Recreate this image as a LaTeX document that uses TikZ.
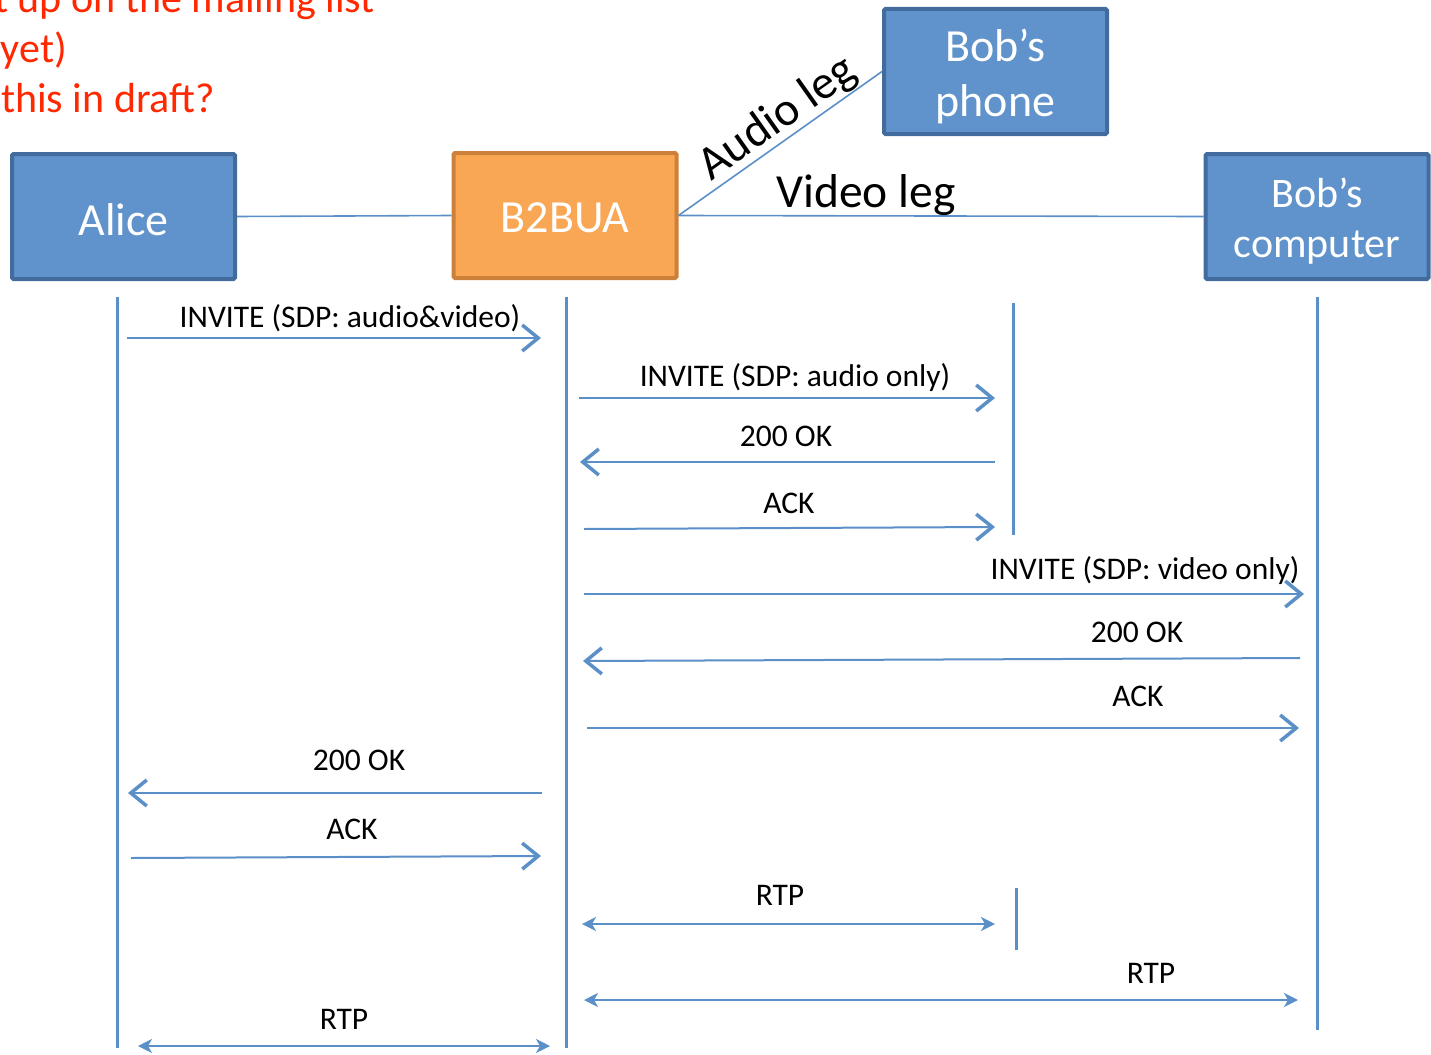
\documentclass[tikz,border=0pt]{standalone}
\usepackage{fontspec}
\setmainfont{Carlito}
\usetikzlibrary{arrows.meta}
\definecolor{boxfill}{RGB}{96,147,203}
\definecolor{boxline}{RGB}{66,108,158}
\definecolor{orfill}{RGB}{249,167,84}
\definecolor{orline}{RGB}{204,128,58}
\definecolor{ln}{RGB}{91,143,200}
\definecolor{redtxt}{RGB}{255,40,0}
\newcommand{\lowered}[2]{\raisebox{#1}[\height][\depth]{#2}}
\newcommand{\twoline}[3]{\lowered{#1}{\begin{tabular}{@{}c@{}}#2\\#3\end{tabular}}}
\begin{document}
\begin{tikzpicture}[x=1pt,y=-1pt,
  box/.style={draw=boxline, fill=boxfill, line width=4pt, rounded corners=1.5pt,
    minimum width=223pt, minimum height=125pt, inner sep=0pt, text=white,
    align=center, font=\fontsize{46}{55}\selectfont},
  orbox/.style={box, draw=orline, fill=orfill},
  leg/.style={draw=ln, line width=1.6pt},
  legtxt/.style={font=\fontsize{47.5}{55}\selectfont, inner sep=0pt},
  life/.style={draw=ln, line width=3pt},
  msg/.style={draw=ln, line width=2pt, -{Straight Barb[length=16pt,width=26pt,line width=3.5pt]}},
  rtp/.style={draw=ln, line width=2pt, {Stealth[length=14pt,width=14pt,inset=4pt]}-{Stealth[length=14pt,width=14pt,inset=4pt]}},
  lbl/.style={font=\fontsize{31.5}{36}\selectfont, inner sep=0pt, anchor=base},
  note/.style={font=\fontsize{42}{50}\selectfont, text=redtxt, inner sep=0pt, anchor=base west}]
\useasboundingbox (0,0) rectangle (1431,1054);

% red note text (cut off at the page edge)
\node[note] (n1) at (-6,13) {t up on the mailing list};
\node[note] (n2) at (-12,63) {(yet)};
\node[note] (n3) at (1,113) {this in draft?};

% participants
\node[box] (alice) at (123.5,216.5) {\lowered{-3pt}{Alice}};
\node[orbox] (b2bua) at (565,215.5) {\lowered{-2pt}{B2BUA}};
\node[box] (phone) at (995.5,71.5) {\twoline{-7pt}{Bob’s}{phone}};
\node[box, font=\fontsize{42}{50}\selectfont] (comp) at (1317,216.5) {\twoline{-6pt}{Bob’s}{computer}};

% legs
\draw[leg] (alice.east) -- (b2bua.west);
\draw[leg] (b2bua.east) -- (comp.west)
  node[legtxt, pos=0.357, anchor=base, yshift=8pt] (vleg) {Video leg};
\draw[leg] (b2bua.east) -- (phone.west)
  node[legtxt, pos=0.55, sloped, anchor=south, yshift=0pt] (aleg) {Audio leg};

% lifelines
\coordinate (aT) at (117,297);  \coordinate (aB) at (117,1048);
\coordinate (bT) at (566,297);  \coordinate (bB) at (566,1048);
\coordinate (pT) at (1013,303); \coordinate (pB) at (1013,535);
\coordinate (pT2) at (1016,888); \coordinate (pB2) at (1016,950);
\coordinate (cT) at (1317,297); \coordinate (cB) at (1317,1030);
\draw[life] (aT) -- (aB);
\draw[life] (bT) -- (bB);
\draw[life] (pT) -- (pB);
\draw[life] (pT2) -- (pB2);
\draw[life] (cT) -- (cB);

% messages
\coordinate (m1s) at (127,338);  \coordinate (m1e) at (541,338);
\draw[msg] (m1s) -- (m1e);
\node[lbl] (l1) at (350,327) {INVITE (SDP: audio\&video)};

\coordinate (m2s) at (579,398);  \coordinate (m2e) at (995,398);
\draw[msg] (m2s) -- (m2e);
\node[lbl] (l2) at (795,386) {INVITE (SDP: audio only)};

\coordinate (m3s) at (995,462);  \coordinate (m3e) at (580,462);
\draw[msg] (m3s) -- (m3e);
\node[lbl] (l3) at (786,446) {200 OK};

\coordinate (m4s) at (584,529);  \coordinate (m4e) at (995,527);
\draw[msg] (m4s) -- (m4e);
\node[lbl] (l4) at (789,513) {ACK};

\coordinate (m5s) at (584,594);  \coordinate (m5e) at (1304,594);
\draw[msg] (m5s) -- (m5e);
\node[lbl] (l5) at (1145,579) {INVITE (SDP: video only)};

\coordinate (m6s) at (1300,658); \coordinate (m6e) at (583,661);
\draw[msg] (m6s) -- (m6e);
\node[lbl] (l6) at (1137,642) {200 OK};

\coordinate (m7s) at (587,728);  \coordinate (m7e) at (1299,728);
\draw[msg] (m7s) -- (m7e);
\node[lbl] (l7) at (1138,706) {ACK};

\coordinate (m8s) at (542,793);  \coordinate (m8e) at (128,793);
\draw[msg] (m8s) -- (m8e);
\node[lbl] (l8) at (359,770) {200 OK};

\coordinate (m9s) at (131,858);  \coordinate (m9e) at (541,856);
\draw[msg] (m9s) -- (m9e);
\node[lbl] (l9) at (352,839) {ACK};

\coordinate (r1s) at (582,924);  \coordinate (r1e) at (995,924);
\draw[rtp] (r1s) -- (r1e);
\node[lbl] (l10) at (780,905) {RTP};

\coordinate (r2s) at (584,1000); \coordinate (r2e) at (1298,1000);
\draw[rtp] (r2s) -- (r2e);
\node[lbl] (l11) at (1151,983) {RTP};

\coordinate (r3s) at (138,1046); \coordinate (r3e) at (550,1046);
\draw[rtp] (r3s) -- (r3e);
\node[lbl] (l12) at (344,1029) {RTP};
\end{tikzpicture}
\end{document}
